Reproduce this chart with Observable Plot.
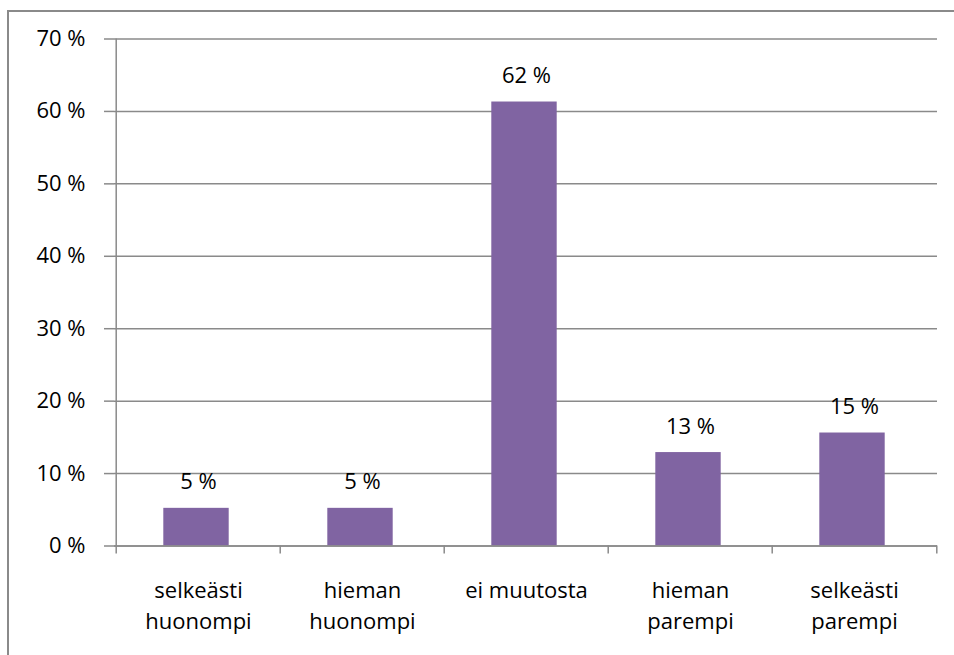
<!DOCTYPE html>
<html>
<head>
<meta charset="utf-8">
<script src="https://cdn.jsdelivr.net/npm/d3@7"></script>
<script src="https://cdn.jsdelivr.net/npm/@observablehq/plot@0.6"></script>
<style>
  html, body { margin: 0; padding: 0; background: #fff; }
  #wrap { position: relative; width: 954px; height: 655px; overflow: hidden; }
  #border { position: absolute; left: 7px; top: 10px; width: 1000px; height: 700px;
            border-top: 2px solid #8a8a8a; border-left: 2px solid #8a8a8a; box-sizing: border-box; }
  #chart { position: absolute; left: 0; top: 0; }
</style>
</head>
<body>
<div id="wrap"><div id="border"></div><div id="chart"></div></div>
<script>
const categories = ["selkeästi\nhuonompi", "hieman\nhuonompi", "ei muutosta", "hieman\nparempi", "selkeästi\nparempi"];
const values = [5.2, 5.2, 61.3, 12.9, 15.6];
const labels = ["5 %", "5 %", "62 %", "13 %", "15 %"];
const yTicks = [0, 10, 20, 30, 40, 50, 60, 70];

const data = categories.map((c, i) => ({category: c, value: values[i], label: labels[i]}));

const W = 954, H = 655;
const mL = 114, mR = 17, mT = 38.5, mB = 109.5;
const bw = (W - mL - mR) / categories.length;
const barW = 66;
const gray = "#8a8a8a";
const font = "'Open Sans', Lato, sans-serif";
const fs = 22;

const chart = Plot.plot({
  width: W,
  height: H,
  marginLeft: mL,
  marginRight: mR,
  marginTop: mT,
  marginBottom: mB,
  style: {fontFamily: font, fontSize: fs + "px", color: "#000", background: "transparent", overflow: "visible"},
  x: {domain: categories, padding: 0, label: null},
  y: {domain: [0, 70], label: null},
  marks: [
    Plot.gridY(yTicks, {stroke: gray, strokeOpacity: 1, strokeWidth: 1.5}),
    Plot.axisY(yTicks, {tickSize: 10, tickPadding: 19, stroke: gray, strokeWidth: 1.5, tickFormat: d => `${d} %`, fill: "#000", fontSize: fs, label: null}),
    Plot.ruleX(categories, {x: d => d, dx: -bw / 2, y1: 0, y2: -1.1, stroke: gray, strokeWidth: 1.5, clip: false}),
    Plot.ruleX([categories[categories.length - 1]], {x: d => d, dx: bw / 2, y1: 0, y2: -1.1, stroke: gray, strokeWidth: 1.5}),
    Plot.barY(data, {x: "category", y: "value", fill: "#8064A2", insetLeft: (bw - barW) / 2 - 2, insetRight: (bw - barW) / 2 + 2}),
    Plot.ruleY([0], {stroke: gray, strokeWidth: 1.5}),
    Plot.ruleX([categories[0]], {x: d => d, dx: -bw / 2, y1: 0, y2: 70, stroke: gray, strokeWidth: 1.5}),
    Plot.text(data, {x: "category", y: "value", text: "label", dy: -19, lineAnchor: "bottom", fill: "#000", fontSize: fs}),
    Plot.axisX(categories, {tickSize: 0, tickPadding: 31, lineHeight: 1.37, fill: "#000", fontSize: fs, label: null, tickFormat: d => d})
  ]
});
document.getElementById("chart").appendChild(chart);
</script>
</body>
</html>
